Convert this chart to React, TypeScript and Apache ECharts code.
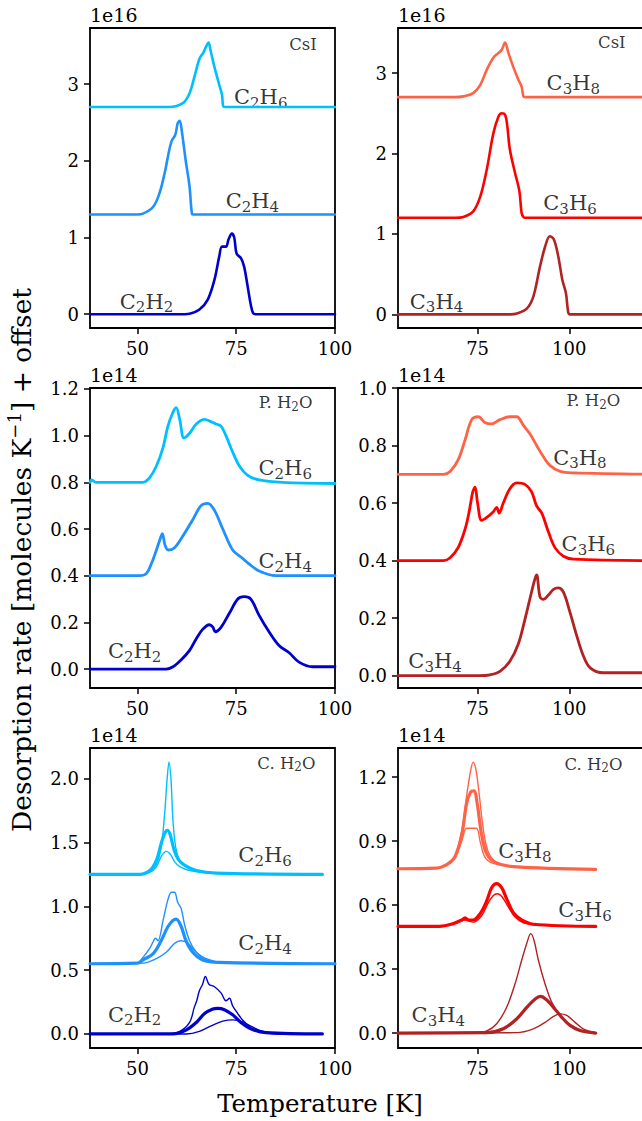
import React, { useEffect, useRef } from 'react';
import * as echarts from 'echarts';

// ---------- colours ----------
const cC2H6 = '#00bfff';
const cC2H4 = '#1e90ff';
const cC2H2 = '#0000cd';
const cC3H8 = '#ff6347';
const cC3H6 = '#ff0000';
const cC3H4 = '#b22222';

// ---------- data: [temperature K, rate (units of offset text)] ----------
// CsI (1e16)
const csiC2H6 = [[38,2.7],[58,2.7],[61.5,2.75],[63.2,2.88],[64.4,3.09],[65.7,3.33],[66.7,3.41],[67.4,3.49],[68,3.54],[68.5,3.44],[69.5,3.22],[70.7,2.99],[71.4,2.86],[71.7,2.71],[72.2,2.7],[100,2.7]];
const csiC2H4 = [[38,1.3],[50,1.3],[51.4,1.31],[54,1.4],[55.6,1.58],[56.9,1.84],[57.7,2.05],[58.6,2.25],[59.6,2.34],[60.2,2.49],[60.7,2.52],[61.3,2.36],[62.2,2.01],[63.2,1.66],[63.8,1.31],[64.3,1.3],[100,1.3]];
const csiC2H2 = [[38,0],[62,0],[63.2,0.005],[65.7,0.06],[67.8,0.19],[69.5,0.45],[70.7,0.75],[71.4,0.88],[72.4,0.88],[73.1,0.98],[73.9,1.05],[74.5,1.0],[75.1,0.79],[76.2,0.73],[77,0.62],[77.9,0.36],[78.7,0.12],[79.3,0.01],[80,0],[100,0]];
const csiC3H8 = [[53.3,2.7],[69,2.7],[71.1,2.71],[73.8,2.75],[75.7,2.85],[77.5,3.04],[79.3,3.19],[80.7,3.25],[81.6,3.29],[82.5,3.38],[83.4,3.25],[84.7,3.08],[86.1,2.92],[87,2.83],[87.5,2.71],[88,2.7],[124,2.7]];
const csiC3H6 = [[53.3,1.2],[69,1.2],[71.1,1.21],[73.8,1.28],[75.7,1.46],[77.5,1.8],[79.3,2.25],[80.7,2.46],[81.6,2.5],[82.5,2.48],[83.1,2.34],[83.8,2.05],[85.2,1.76],[86.4,1.53],[87,1.26],[87.5,1.21],[88,1.2],[124,1.2]];
const csiC3H4 = [[53.3,0],[84,0],[85.7,0.01],[88.4,0.07],[90.2,0.22],[92,0.59],[93.4,0.84],[94.7,0.97],[95.8,0.93],[97,0.72],[98.1,0.43],[99.1,0.26],[99.7,0.03],[100.2,0],[124,0]];

// Porous H2O (1e14)
const pwC2H6 = [[38,0.8],[38.4,0.81],[39.5,0.8],[51.4,0.8],[53.1,0.82],[54.8,0.87],[56.5,0.95],[57.7,1.04],[59,1.1],[59.8,1.12],[60.7,1.07],[61.8,0.99],[63.2,1.01],[64.9,1.05],[67,1.07],[68.6,1.06],[69.9,1.05],[71.2,1.04],[72.4,1.0],[74.1,0.93],[75.8,0.87],[77.9,0.83],[80.8,0.81],[86.7,0.8],[100,0.795]];
const pwC2H4 = [[38,0.4],[50.6,0.4],[52.3,0.41],[53.5,0.45],[54.6,0.5],[55.6,0.55],[56.3,0.58],[57,0.53],[57.8,0.51],[59.4,0.52],[61.5,0.57],[64,0.64],[66.1,0.7],[67.8,0.71],[69.5,0.68],[71.6,0.6],[74.1,0.51],[76.2,0.48],[78.3,0.45],[80.8,0.42],[85,0.4],[100,0.4]];
const pwC2H2 = [[38,0],[57.3,0],[59,0.01],[61.1,0.04],[63.2,0.08],[64.9,0.13],[66.5,0.17],[68.2,0.19],[69.1,0.18],[69.7,0.16],[71.2,0.18],[73.3,0.24],[75.4,0.3],[77,0.31],[78.7,0.3],[80.8,0.23],[83.3,0.16],[85.9,0.1],[88.4,0.07],[90.9,0.03],[94.3,0.01],[100,0.01]];
const pwC3H8 = [[53.3,0.7],[65.7,0.7],[67.5,0.71],[69.7,0.75],[71.6,0.82],[73.4,0.89],[75.2,0.9],[77,0.88],[78.8,0.875],[81.1,0.89],[83.8,0.9],[85.7,0.9],[87.5,0.87],[89.3,0.84],[91.1,0.8],[93,0.76],[94.8,0.73],[97.5,0.71],[101.1,0.705],[124,0.7]];
const pwC3H6 = [[53.3,0.4],[65.7,0.4],[67.5,0.41],[69.7,0.445],[71.6,0.51],[72.7,0.57],[73.7,0.64],[74.3,0.655],[75,0.6],[76.1,0.54],[77.5,0.55],[79.3,0.57],[80.2,0.585],[80.9,0.565],[82,0.6],[83.8,0.65],[85.7,0.67],[87.9,0.665],[89.7,0.64],[91.1,0.59],[92.5,0.565],[94.3,0.5],[96.1,0.445],[98.4,0.415],[101.1,0.405],[124,0.4]];
const pwC3H4 = [[53.3,0],[75.7,0],[78.4,0.003],[81.1,0.015],[83.8,0.05],[86.1,0.11],[87.9,0.195],[89.7,0.29],[90.6,0.335],[91.1,0.35],[92,0.275],[92.9,0.265],[94.3,0.28],[95.7,0.3],[97,0.305],[98.4,0.29],[100.2,0.22],[102,0.14],[103.8,0.07],[105.7,0.027],[109.3,0.01],[124,0.01]];

// Compact H2O (1e14), several coverages each
const cwC2H6a = [[38,1.25],[50.6,1.25],[53.1,1.27],[54.8,1.33],[56,1.46],[56.9,1.73],[57.5,1.99],[58,2.13],[58.5,1.99],[59,1.67],[59.7,1.46],[60.7,1.36],[62.3,1.31],[64.9,1.28],[69.9,1.26],[96.8,1.25]];
const cwC2H6b = [[38,1.25],[50.6,1.25],[53.1,1.28],[54.8,1.36],[56,1.49],[56.9,1.57],[57.6,1.595],[58.3,1.56],[59.2,1.45],[60.3,1.37],[62,1.32],[64.9,1.28],[69.9,1.26],[96.8,1.25]];
const cwC2H6c = [[38,1.25],[50.6,1.25],[53.1,1.265],[54.8,1.31],[56,1.39],[57.3,1.43],[58.3,1.41],[59.4,1.35],[60.7,1.31],[63.2,1.28],[68.2,1.26],[96.8,1.25]];
const cwC2H4a = [[38,0.55],[49.8,0.555],[51.4,0.6],[53.1,0.67],[54.1,0.73],[54.6,0.75],[55.2,0.73],[56.5,0.89],[57.7,1.05],[58.6,1.11],[59.4,1.11],[60.2,1.03],[61.1,0.98],[61.9,0.86],[63.2,0.73],[64.9,0.64],[67.4,0.58],[72.4,0.56],[100,0.55]];
const cwC2H4b = [[38,0.55],[50,0.555],[51.4,0.58],[54,0.63],[56,0.73],[57.7,0.84],[59,0.89],[59.8,0.9],[61.1,0.84],[62.3,0.73],[64,0.64],[66.5,0.58],[70.7,0.56],[100,0.55]];
const cwC2H4c = [[38,0.55],[51.4,0.555],[54.8,0.59],[57.3,0.64],[59.4,0.71],[61.1,0.73],[62.8,0.71],[64.9,0.64],[67.4,0.59],[71.6,0.56],[100,0.55]];
const cwC2H2a = [[38,0],[57.3,0],[60.7,0.02],[63.2,0.09],[64.4,0.21],[65,0.26],[65.7,0.34],[66.5,0.39],[67.2,0.45],[68.1,0.39],[69.5,0.37],[71.2,0.32],[72.4,0.26],[73.3,0.28],[74.1,0.22],[75.4,0.16],[76.6,0.11],[79.1,0.04],[82.5,0.01],[96.8,0]];
const cwC2H2b = [[38,0],[59,0],[62.3,0.03],[64.9,0.09],[67,0.16],[69.1,0.195],[70.3,0.2],[72,0.19],[74.1,0.15],[76.2,0.09],[78.7,0.04],[82.5,0.01],[96.8,0]];
const cwC2H2c = [[38,0],[62.3,0],[65.7,0.02],[69.1,0.07],[71.6,0.1],[74.1,0.11],[76.6,0.095],[79.1,0.055],[81.7,0.02],[85,0],[96.8,0]];
const cwC3H8a = [[53.3,0.77],[63.8,0.773],[66.6,0.79],[68.8,0.83],[70.7,0.95],[72,1.11],[73.1,1.23],[73.8,1.27],[74.6,1.23],[75.5,1.11],[76.6,0.95],[77.9,0.85],[80.2,0.8],[84.7,0.78],[107.2,0.767]];
const cwC3H8b = [[53.3,0.77],[63.8,0.773],[66.6,0.79],[68.8,0.825],[70.7,0.93],[72,1.075],[73.1,1.13],[74,1.135],[74.9,1.075],[76.1,0.93],[77.5,0.84],[79.8,0.8],[84.7,0.78],[107.2,0.767]];
const cwC3H8c = [[53.3,0.77],[63.8,0.773],[66.6,0.785],[68.8,0.82],[70.7,0.9],[72,0.96],[73.4,0.96],[74.7,0.96],[75.8,0.89],[77,0.825],[79.3,0.795],[84.7,0.78],[107.2,0.767]];
const cwC3H6a = [[53.3,0.5],[64.6,0.5],[68.4,0.513],[70.7,0.53],[71.6,0.54],[72.5,0.53],[73.8,0.53],[75.7,0.56],[77.5,0.62],[78.8,0.68],[80.2,0.7],[81.6,0.68],[82.9,0.63],[84.7,0.565],[87,0.53],[90.2,0.51],[107.2,0.5]];
const cwC3H6b = [[53.3,0.5],[64.6,0.5],[69.7,0.52],[71.6,0.53],[73.8,0.52],[76.1,0.55],[77.9,0.61],[79.3,0.645],[80.4,0.653],[81.6,0.64],[83.4,0.59],[85.2,0.544],[87.5,0.517],[91.1,0.506],[107.2,0.5]];
const cwC3H4a = [[53.3,0],[73.8,0],[77.5,0.01],[80.2,0.044],[82.9,0.12],[85.2,0.23],[87,0.34],[88.4,0.42],[89.5,0.466],[90.4,0.434],[91.6,0.34],[93.4,0.23],[95.2,0.145],[97.5,0.083],[100.2,0.04],[103.8,0.01],[107.2,0]];
const cwC3H4b = [[53.3,0],[77.5,0.002],[82,0.02],[85.7,0.067],[88.4,0.12],[90.7,0.16],[92.2,0.172],[93.8,0.156],[95.7,0.12],[97.9,0.075],[100.2,0.036],[102.9,0.012],[107.2,0]];
const cwC3H4c = [[53.3,0],[85.7,0.002],[90.2,0.02],[93.4,0.05],[95.7,0.078],[97.5,0.09],[99.3,0.083],[101.6,0.05],[103.8,0.02],[107.2,0.002]];

// ---------- axes ----------
const xRangeLeft = [38, 100];
const xRangeRight = [53.3, 124];
const xTicksLeft = [50, 75, 100];
const xTicksRight = [75, 100];
const yRanges = [[-0.18, 3.73], [-0.17, 3.56], [-0.081, 1.204], [-0.043, 1.0], [-0.11, 2.24], [-0.07, 1.336]];
const yTicks = [
  [0, 1, 2, 3],
  [0, 1, 2, 3],
  [0, 0.2, 0.4, 0.6, 0.8, 1.0, 1.2],
  [0, 0.2, 0.4, 0.6, 0.8, 1.0],
  [0, 0.5, 1.0, 1.5, 2.0],
  [0, 0.3, 0.6, 0.9, 1.2],
];
const yDecimals = [0, 0, 1, 1, 1, 1];
const offsetTexts = ['1e16', '1e16', '1e14', '1e14', '1e14', '1e14'];

// ---------- labels: [panel, text, T, y] ----------
const speciesLabels: [number, string, number, number][] = [
  [0, 'C2H6', 81.2, 2.83], [0, 'C2H4', 79.1, 1.47], [0, 'C2H2', 52.3, 0.165],
  [1, 'C3H8', 101.1, 2.875], [1, 'C3H6', 100.2, 1.38], [1, 'C3H4', 63.8, 0.158],
  [2, 'C2H6', 87.4, 0.861], [2, 'C2H4', 87.4, 0.461], [2, 'C2H2', 49.3, 0.076],
  [3, 'C3H8', 102.9, 0.758], [3, 'C3H6', 105.2, 0.456], [3, 'C3H4', 63.4, 0.05],
  [4, 'C2H6', 82.3, 1.4], [4, 'C2H4', 82.3, 0.71], [4, 'C2H2', 49.3, 0.151],
  [5, 'C3H8', 87.9, 0.852], [5, 'C3H6', 104.3, 0.575], [5, 'C3H4', 64.3, 0.083],
];
const substrateLabels: [number, string, number, number][] = [
  [0, 'CsI', 91.9, 3.52], [1, 'CsI', 111.6, 3.38],
  [2, 'P. H2O', 87.5, 1.14], [3, 'P. H2O', 106.6, 0.956],
  [4, 'C. H2O', 87.7, 2.12], [5, 'C. H2O', 106.6, 1.26],
];

// ---------- series per panel ----------
type S = { data: number[][]; color: string; width: number };
const panelSeries: S[][] = [
  [
    { data: csiC2H6, color: cC2H6, width: 2.6 },
    { data: csiC2H4, color: cC2H4, width: 2.6 },
    { data: csiC2H2, color: cC2H2, width: 2.6 },
  ],
  [
    { data: csiC3H8, color: cC3H8, width: 2.6 },
    { data: csiC3H6, color: cC3H6, width: 2.6 },
    { data: csiC3H4, color: cC3H4, width: 2.6 },
  ],
  [
    { data: pwC2H6, color: cC2H6, width: 2.8 },
    { data: pwC2H4, color: cC2H4, width: 2.8 },
    { data: pwC2H2, color: cC2H2, width: 2.8 },
  ],
  [
    { data: pwC3H8, color: cC3H8, width: 2.8 },
    { data: pwC3H6, color: cC3H6, width: 2.8 },
    { data: pwC3H4, color: cC3H4, width: 2.8 },
  ],
  [
    { data: cwC2H6a, color: cC2H6, width: 1.4 },
    { data: cwC2H6b, color: cC2H6, width: 3.2 },
    { data: cwC2H6c, color: cC2H6, width: 1.4 },
    { data: cwC2H4a, color: cC2H4, width: 1.4 },
    { data: cwC2H4b, color: cC2H4, width: 3.2 },
    { data: cwC2H4c, color: cC2H4, width: 1.4 },
    { data: cwC2H2a, color: cC2H2, width: 1.4 },
    { data: cwC2H2b, color: cC2H2, width: 3.2 },
    { data: cwC2H2c, color: cC2H2, width: 1.4 },
  ],
  [
    { data: cwC3H8a, color: cC3H8, width: 1.4 },
    { data: cwC3H8b, color: cC3H8, width: 3.2 },
    { data: cwC3H8c, color: cC3H8, width: 1.4 },
    { data: cwC3H6a, color: cC3H6, width: 3.2 },
    { data: cwC3H6b, color: cC3H6, width: 1.4 },
    { data: cwC3H4a, color: cC3H4, width: 1.4 },
    { data: cwC3H4b, color: cC3H4, width: 3.2 },
    { data: cwC3H4c, color: cC3H4, width: 1.4 },
  ],
];

const FONT = 'DejaVu Serif';
const TICK_SIZE = 18;

function richify(text: string, m: string, s: string) {
  return (text.match(/\d+|\D+/g) || []).map((t) => (/\d/.test(t) ? `{${s}|${t}}` : `{${m}|${t}}`)).join('');
}

const RICH = {
  m: { fontFamily: FONT, fontSize: 21, lineHeight: 26, verticalAlign: 'middle', color: '#000' },
  s: { fontFamily: FONT, fontSize: 15, lineHeight: 17, verticalAlign: 'bottom', color: '#000' },
  pm: { fontFamily: FONT, fontSize: 16.5, lineHeight: 20, verticalAlign: 'middle', color: '#000' },
  ps: { fontFamily: FONT, fontSize: 12, lineHeight: 13, verticalAlign: 'bottom', color: '#000' },
};

const COL_LEFT = [90, 398];
const COL_WIDTH = [245, 259.3];
const ROW_TOP = [28, 388, 748];
const PANEL_H = 300;

function buildOption() {
  const grids: any[] = [];
  const xAxes: any[] = [];
  const yAxes: any[] = [];
  const series: any[] = [];
  const graphics: any[] = [];
  for (let p = 0; p < 6; p++) {
    const col = p % 2;
    const row = Math.floor(p / 2);
    grids.push({
      left: COL_LEFT[col], top: ROW_TOP[row], width: COL_WIDTH[col], height: PANEL_H,
      containLabel: false, outerBoundsMode: 'none',
      show: true, borderColor: '#000', borderWidth: 1.8, backgroundColor: 'transparent',
    });
    const xr = col === 0 ? xRangeLeft : xRangeRight;
    const xt = col === 0 ? xTicksLeft : xTicksRight;
    xAxes.push({
      type: 'value', gridIndex: p, min: xr[0], max: xr[1], position: 'bottom',
      axisLine: { show: false, onZero: false },
      splitLine: { show: false },
      axisTick: { show: true, length: 6, customValues: xt, lineStyle: { color: '#000', width: 1.5 } },
      axisLabel: { show: true, customValues: xt, margin: 11, fontFamily: FONT, fontSize: TICK_SIZE, color: '#000' },
    });
    const dec = yDecimals[p];
    yAxes.push({
      type: 'value', gridIndex: p, min: yRanges[p][0], max: yRanges[p][1], position: 'left',
      axisLine: { show: false, onZero: false },
      splitLine: { show: false },
      axisTick: { show: true, length: 6, customValues: yTicks[p], lineStyle: { color: '#000', width: 1.5 } },
      axisLabel: {
        show: true, customValues: yTicks[p], margin: 11, fontFamily: FONT, fontSize: TICK_SIZE, color: '#000',
        formatter: (v: number) => v.toFixed(dec),
      },
    });
    panelSeries[p].forEach((s) => {
      series.push({
        type: 'line', xAxisIndex: p, yAxisIndex: p, data: s.data, showSymbol: false, symbol: 'none',
        smooth: 0.35,
        lineStyle: { color: s.color, width: s.width, join: 'round', cap: 'round' }, itemStyle: { color: s.color },
        silent: true,
      });
    });
    const labs = speciesLabels.filter((l) => l[0] === p).map((l) => ({
      value: [l[2], l[3]],
      label: { formatter: richify(l[1], 'm', 's') },
    }));
    const subs = substrateLabels.filter((l) => l[0] === p).map((l) => ({
      value: [l[2], l[3]],
      label: { formatter: richify(l[1], 'pm', 'ps') },
    }));
    series.push({
      type: 'scatter', xAxisIndex: p, yAxisIndex: p, symbolSize: 0, silent: true,
      data: [...labs, ...subs],
      label: { show: true, position: 'inside', rich: RICH },
    });
    graphics.push({
      type: 'text', x: COL_LEFT[col], y: ROW_TOP[row] - 4,
      style: { text: offsetTexts[p], fontFamily: FONT, fontSize: 19, fill: '#000', textAlign: 'left', textVerticalAlign: 'bottom' },
    });
  }
  graphics.push({
    type: 'text', x: 320, y: 1103,
    style: { text: 'Temperature [K]', fontFamily: FONT, fontSize: 24.5, fill: '#000', textAlign: 'center', textVerticalAlign: 'middle' },
  });
  graphics.push({
    type: 'text', x: 21, y: 560, rotation: Math.PI / 2,
    style: {
      text: '{a|Desorption rate [molecules K}{b|−1}{a|] + offset}',
      textAlign: 'center', textVerticalAlign: 'middle',
      rich: {
        a: { fontFamily: FONT, fontSize: 26.5, lineHeight: 32, verticalAlign: 'middle', color: '#000' },
        b: { fontFamily: FONT, fontSize: 18, lineHeight: 18, verticalAlign: 'top', color: '#000' },
      },
    },
  });
  return {
    animation: false,
    backgroundColor: '#fff',
    grid: grids,
    xAxis: xAxes,
    yAxis: yAxes,
    series,
    graphic: graphics,
  };
}

export default function App() {
  const ref = useRef<HTMLDivElement>(null);
  useEffect(() => {
    if (!ref.current) return;
    const chart = echarts.init(ref.current, undefined, { renderer: 'svg' });
    chart.setOption(buildOption() as any);
    return () => chart.dispose();
  }, []);
  return <div ref={ref} style={{ position: 'fixed', left: 0, top: 0, width: 642, height: 1121, background: '#fff' }} />;
}
